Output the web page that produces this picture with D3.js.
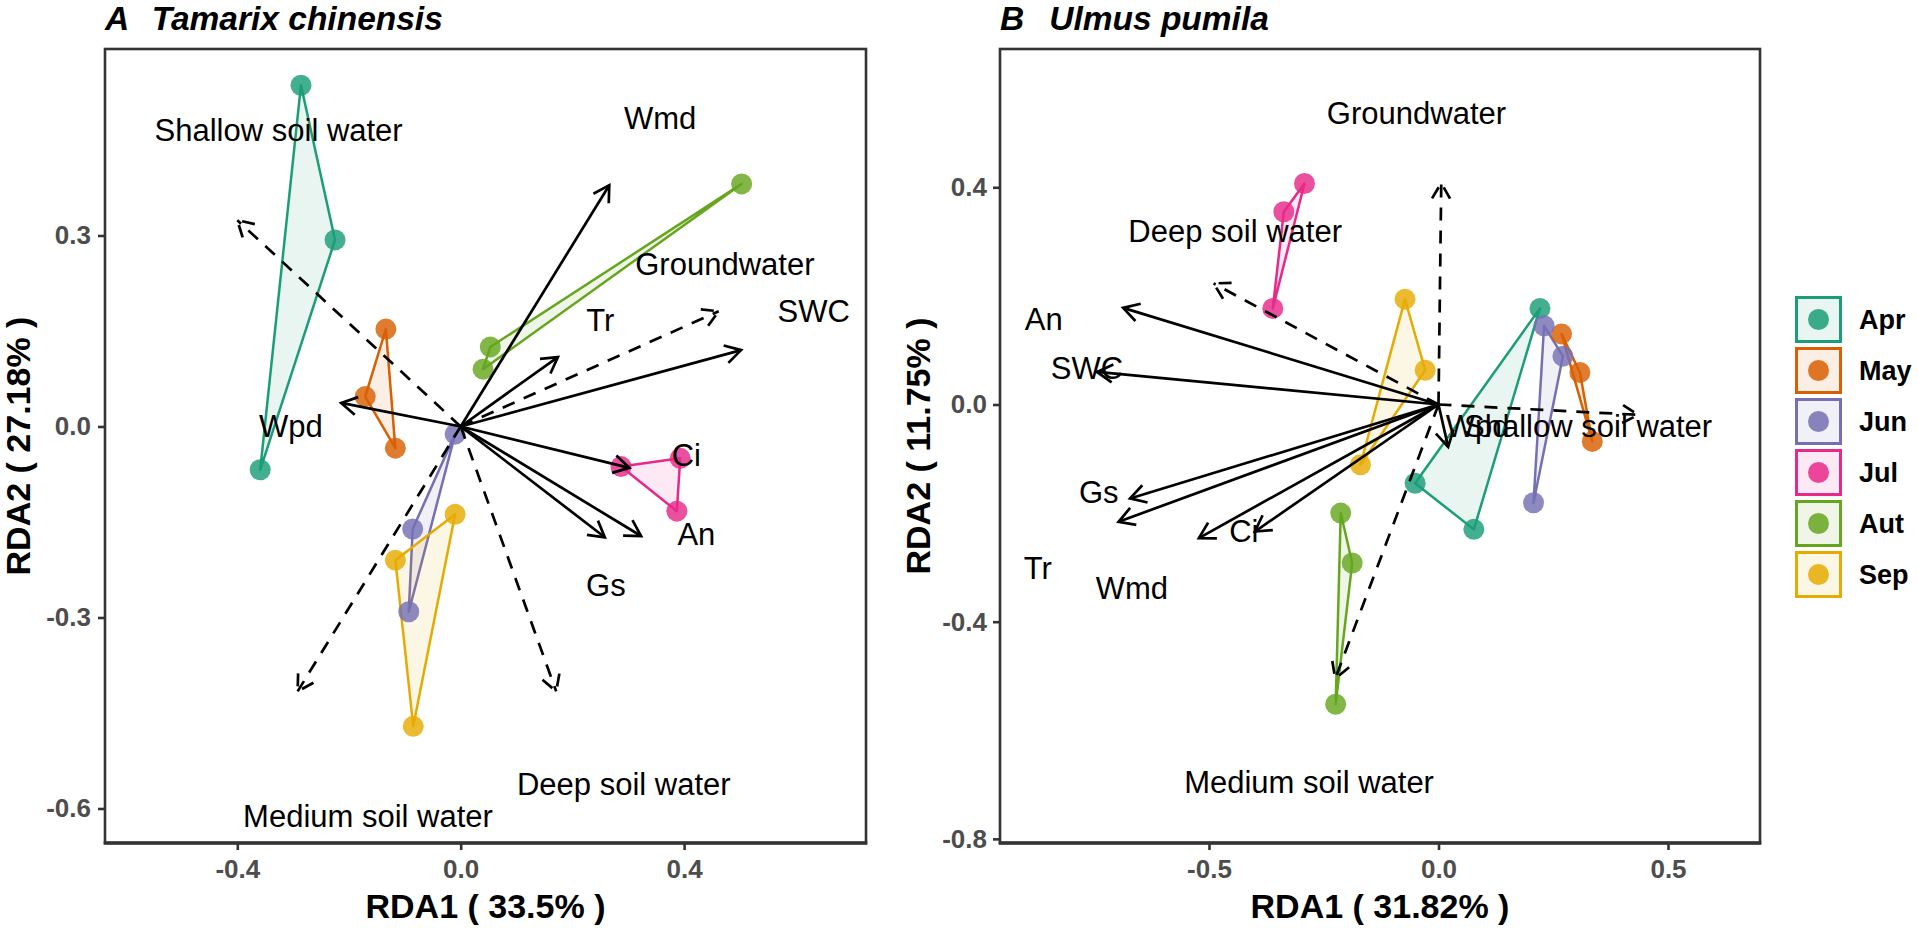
<!DOCTYPE html>
<html><head><meta charset="utf-8">
<script src="https://cdn.jsdelivr.net/npm/d3@7"></script>
<style>
body{margin:0;background:#fff}
svg{display:block}
text{font-family:"Liberation Sans",Arial,Helvetica,sans-serif}
</style>
</head><body>
<svg id="c" width="1918" height="928"></svg>
<script>
// ---------------- DATA ----------------
const months = ["Apr","May","Jun","Jul","Aut","Sep"];
const monthColors = ["#1B9E77","#D95F02","#7570B3","#E7298A","#66A61E","#E6AB02"];

// Panel A (Tamarix chinensis) sample scores, 3 per month
const sampleMonthA = ["Apr","Apr","Apr","May","May","May","Jun","Jun","Jun","Jul","Jul","Jul","Aut","Aut","Aut","Sep","Sep","Sep"];
const sampleXA = [-0.286,-0.225,-0.359, -0.134,-0.171,-0.117, -0.010,-0.086,-0.093, 0.287,0.393,0.387, 0.053,0.040,0.503, -0.010,-0.117,-0.085];
const sampleYA = [ 0.536, 0.293,-0.068,  0.153, 0.047,-0.034, -0.012,-0.161,-0.291,-0.063,-0.050,-0.133, 0.125,0.090,0.381, -0.138,-0.210,-0.471];

// Panel A response variables (solid arrows)
const respNamesA = ["Wmd","Tr","SWC","Wpd","Ci","Gs","An"];
const respXA = [0.266,0.174,0.502,-0.214,0.302,0.258,0.323];
const respYA = [0.379,0.109,0.120, 0.037,-0.065,-0.174,-0.172];
const respLabXA = [0.357,0.250,0.632,-0.304,0.404,0.260,0.422];
const respLabYA = [0.484,0.167,0.180, 0.000,-0.045,-0.250,-0.169];

// Panel A explanatory variables (dashed arrows)
const envNamesA = ["Shallow soil water","Groundwater","Medium soil water","Deep soil water"];
const envXA = [-0.400,0.462,-0.292,0.171];
const envYA = [ 0.324,0.181,-0.416,-0.416];
const envLabXA = [-0.326,0.473,-0.166,0.292];
const envLabYA = [ 0.465,0.254,-0.612,-0.563];

// Panel B (Ulmus pumila) sample scores
const sampleMonthB = ["Apr","Apr","Apr","May","May","May","Jun","Jun","Jun","Jul","Jul","Jul","Aut","Aut","Aut","Sep","Sep","Sep"];
const sampleXB = [0.221,-0.051,0.077, 0.268,0.308,0.335, 0.230,0.271,0.207, -0.292,-0.337,-0.361, -0.213,-0.188,-0.224, -0.073,-0.029,-0.170];
const sampleYB = [0.177,-0.145,-0.230, 0.130,0.059,-0.068, 0.145,0.089,-0.181, 0.407,0.355,0.177, -0.200,-0.292,-0.552, 0.194,0.063,-0.111];

const respNamesB = ["An","SWC","Gs","Tr","Wmd","Ci","Wpd"];
const respXB = [-0.687,-0.744,-0.672,-0.697,-0.522,-0.400,0.021];
const respYB = [ 0.178, 0.060,-0.173,-0.216,-0.246,-0.234,-0.078];
const respLabXB = [-0.860,-0.766,-0.740,-0.873,-0.668,-0.424,0.085];
const respLabYB = [ 0.156, 0.067,-0.163,-0.302,-0.338,-0.234,-0.041];

const envNamesB = ["Groundwater","Deep soil water","Shallow soil water","Medium soil water"];
const envXB = [0.006,-0.490,0.435,-0.225];
const envYB = [0.408, 0.223,-0.019,-0.505];
const envLabXB = [-0.048,-0.443,0.326,-0.282];
const envLabYB = [ 0.536, 0.318,-0.041,-0.697];

// Axis ticks
const xTicksA = [-0.4,0.0,0.4];   const xTickLabelsA = ["-0.4","0.0","0.4"];
const yTicksA = [-0.6,-0.3,0.0,0.3]; const yTickLabelsA = ["-0.6","-0.3","0.0","0.3"];
const xTicksB = [-0.5,0.0,0.5];   const xTickLabelsB = ["-0.5","0.0","0.5"];
const yTicksB = [-0.8,-0.4,0.0,0.4]; const yTickLabelsB = ["-0.8","-0.4","0.0","0.4"];

const titleLetterA = "A", titleSpeciesA = "Tamarix chinensis";
const titleLetterB = "B", titleSpeciesB = "Ulmus pumila";
const xTitleA = "RDA1 ( 33.5% )", yTitleA = "RDA2 ( 27.18% )";
const xTitleB = "RDA1 ( 31.82% )", yTitleB = "RDA2 ( 11.75% )";

// ---------------- DRAWING ----------------
const svg = d3.select("#c");
const color = d3.scaleOrdinal().domain(months).range(monthColors);

function drawArrow(g, x0, y0, x1, y1, dashed) {
  const ang = Math.atan2(y1 - y0, x1 - x0);
  const L = 18, a = Math.PI / 6;
  const b1 = [x1 - L * Math.cos(ang - a), y1 - L * Math.sin(ang - a)];
  const b2 = [x1 - L * Math.cos(ang + a), y1 - L * Math.sin(ang + a)];
  const st = (sel) => sel.attr("fill", "none").attr("stroke", "#000").attr("stroke-width", 2.7)
      .attr("stroke-dasharray", dashed ? "13,10" : null);
  st(g.append("line").attr("x1", x0).attr("y1", y0).attr("x2", x1).attr("y2", y1));
  st(g.append("path").attr("d", `M${b1[0]},${b1[1]}L${x1},${y1}L${b2[0]},${b2[1]}`)
      .attr("stroke-linejoin", "miter"));
}

function drawPanel(p) {
  const x = d3.scaleLinear().domain(p.xDom).range([p.left, p.right]);
  const y = d3.scaleLinear().domain(p.yDom).range([p.bottom, p.top]);
  const g = svg.append("g");

  // axes
  const xa = g.append("g").attr("transform", `translate(0,${p.bottom})`)
    .call(d3.axisBottom(x).tickValues(p.xTicks).tickSize(7).tickPadding(10)
      .tickFormat((d, i) => p.xTickLabels[i]));
  const ya = g.append("g").attr("transform", `translate(${p.left},0)`)
    .call(d3.axisLeft(y).tickValues(p.yTicks).tickSize(7).tickPadding(p.yPad)
      .tickFormat((d, i) => p.yTickLabels[i]));
  [xa, ya].forEach(a => {
    a.select(".domain").remove();
    a.selectAll(".tick line").attr("stroke", "#333").attr("stroke-width", 2.6);
    a.selectAll(".tick text").attr("fill", "#4D4D4D").attr("font-size", 26)
      .attr("font-weight", "bold").attr("font-family", "Liberation Sans, Arial, sans-serif");
  });

  // groups
  const data = p.sx.map((v, i) => ({ m: p.sm[i], x: v, y: p.sy[i] }));
  const groups = d3.group(data, d => d.m);
  months.forEach(m => {
    const pts = (groups.get(m) || []).map(d => [x(d.x), y(d.y)]);
    const hull = pts.length >= 3 ? d3.polygonHull(pts) : pts;
    g.append("path").attr("d", "M" + hull.join("L") + "Z")
      .attr("fill", color(m)).attr("fill-opacity", 0.1)
      .attr("stroke", color(m)).attr("stroke-width", 2.5).attr("stroke-linejoin", "round");
  });
  g.selectAll("circle.pt").data(data).join("circle").attr("class", "pt")
    .attr("cx", d => x(d.x)).attr("cy", d => y(d.y)).attr("r", 10.5)
    .attr("fill", d => color(d.m)).attr("fill-opacity", 0.82);

  // arrows
  const ox = x(0), oy = y(0);
  p.rx.forEach((v, i) => drawArrow(g, ox, oy, x(v), y(p.ry[i]), false));
  p.ex.forEach((v, i) => drawArrow(g, ox, oy, x(v), y(p.ey[i]), true));

  // labels
  const lab = (names, lx, ly) => names.forEach((n, i) => {
    g.append("text").attr("x", x(lx[i])).attr("y", y(ly[i]))
      .attr("text-anchor", "middle").attr("dominant-baseline", "central")
      .attr("font-size", 31).attr("fill", "#000").text(n);
  });
  lab(p.rn, p.rlx, p.rly);
  lab(p.en, p.elx, p.ely);

  // frame
  g.append("rect").attr("x", p.left).attr("y", p.top)
    .attr("width", p.right - p.left).attr("height", p.bottom - p.top)
    .attr("fill", "none").attr("stroke", "#333").attr("stroke-width", 2.6);
  g.append("line").attr("x1", p.left - 1.3).attr("x2", p.right + 1.3)
    .attr("y1", p.bottom).attr("y2", p.bottom).attr("stroke", "#333").attr("stroke-width", 3.4);

  // titles
  const t = g.append("text").attr("x", p.left).attr("y", 30)
    .attr("font-size", 33.5).attr("font-weight", "bold").attr("font-style", "italic").attr("fill", "#000");
  t.append("tspan").text(p.letter);
  t.append("tspan").attr("dx", 25).text(p.species);

  g.append("text").attr("x", (p.left + p.right) / 2).attr("y", 918)
    .attr("text-anchor", "middle").attr("font-size", 34).attr("font-weight", "bold").text(p.xTitle);
  g.append("text").attr("transform", `translate(${p.yTitleX},${(p.top + p.bottom) / 2}) rotate(-90)`)
    .attr("text-anchor", "middle").attr("dominant-baseline", "central")
    .attr("font-size", 34).attr("font-weight", "bold").text(p.yTitle);
}

drawPanel({
  left: 105, right: 866, top: 49, bottom: 843,
  xDom: [-0.6369, 0.7257], yDom: [-0.6542, 0.5929], yPad: 7, yTitleX: 18,
  xTicks: xTicksA, xTickLabels: xTickLabelsA, yTicks: yTicksA, yTickLabels: yTickLabelsA,
  sm: sampleMonthA, sx: sampleXA, sy: sampleYA,
  rn: respNamesA, rx: respXA, ry: respYA, rlx: respLabXA, rly: respLabYA,
  en: envNamesA, ex: envXA, ey: envYA, elx: envLabXA, ely: envLabYA,
  letter: titleLetterA, species: titleSpeciesA, xTitle: xTitleA, yTitle: yTitleA
});
drawPanel({
  left: 1000, right: 1760, top: 49, bottom: 843,
  xDom: [-0.9553, 0.7004], yDom: [-0.8076, 0.6547], yPad: 6, yTitleX: 918,
  xTicks: xTicksB, xTickLabels: xTickLabelsB, yTicks: yTicksB, yTickLabels: yTickLabelsB,
  sm: sampleMonthB, sx: sampleXB, sy: sampleYB,
  rn: respNamesB, rx: respXB, ry: respYB, rlx: respLabXB, rly: respLabYB,
  en: envNamesB, ex: envXB, ey: envYB, elx: envLabXB, ely: envLabYB,
  letter: titleLetterB, species: titleSpeciesB, xTitle: xTitleB, yTitle: yTitleB
});

// legend
const lg = svg.append("g").attr("transform", "translate(1795,296)");
months.forEach((m, i) => {
  const k = lg.append("g").attr("transform", `translate(0,${i * 51})`);
  k.append("rect").attr("x", 1.5).attr("y", 1.5).attr("width", 44).attr("height", 44)
    .attr("fill", color(m)).attr("fill-opacity", 0.1)
    .attr("stroke", color(m)).attr("stroke-width", 3);
  k.append("circle").attr("cx", 23.5).attr("cy", 23.5).attr("r", 10.5)
    .attr("fill", color(m)).attr("fill-opacity", 0.85);
  k.append("text").attr("x", 64).attr("y", 23.5).attr("dominant-baseline", "central")
    .attr("font-size", 27).attr("font-weight", "bold").text(m);
});
</script>
</body></html>
